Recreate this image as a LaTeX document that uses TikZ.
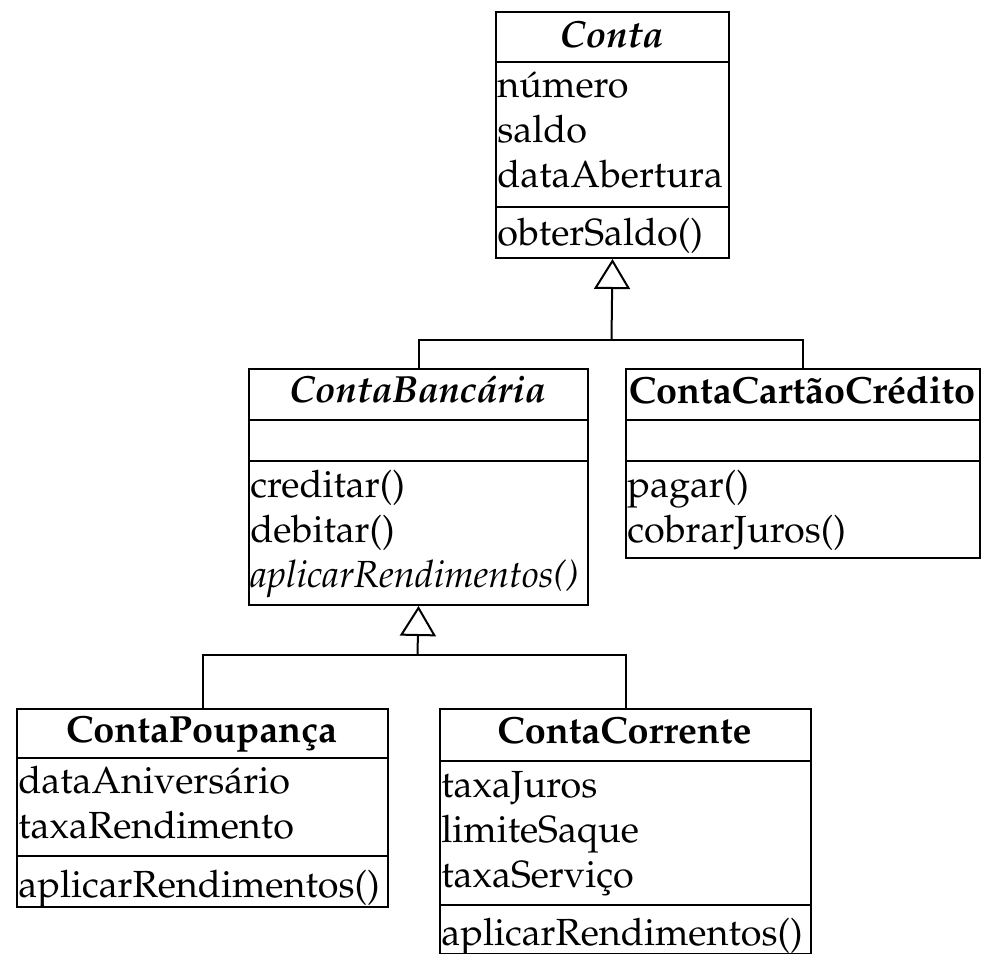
\documentclass[tikz,border=0pt]{standalone}
\usepackage[T1]{fontenc}
\usepackage{mathpazo}
\usetikzlibrary{arrows.meta}
\begin{document}
\begin{tikzpicture}[x=0.5pt,y=-0.5pt,
  classbox/.style={draw, line width=1pt, inner sep=0pt, anchor=north west},
  member/.style={anchor=base west, inner sep=0pt, font=\fontsize{18.9}{22}\selectfont},
  ctitle/.style={anchor=base, inner sep=0pt, font=\fontsize{18.9}{22}\selectfont\bfseries},
  sepline/.style={line width=1pt},
  gen/.style={line width=1pt},
  gentip/.style={gen, -{Triangle[open, length=15pt, width=18pt, fill=white]}}]
\useasboundingbox (0,0) rectangle (981,954);

% Conta
\node[classbox, minimum width=116.5pt, minimum height=123pt] (conta) at (495,11) {};
\draw[sepline] (495,62) -- (728,62);
\draw[sepline] (495,207) -- (728,207);
\node[ctitle] (contaT) at (611.5,47) {\itshape Conta};
\node[member] (contaA1) at (497,97) {n\'umero};
\node[member] (contaA2) at (497,142) {saldo};
\node[member] (contaA3) at (497,187) {dataAbertura};
\node[member] (contaM1) at (497,245) {obterSaldo()};

% ContaBancaria
\node[classbox, minimum width=169.5pt, minimum height=118pt] (bank) at (248,368) {};
\draw[sepline] (248,420) -- (587,420);
\draw[sepline] (248,461) -- (587,461);
\node[ctitle] (bankT) at (417.5,402) {\itshape ContaBanc\'aria};
\node[member] (bankM1) at (250,497) {creditar()};
\node[member] (bankM2) at (250,542) {debitar()};
\node[member] (bankM3) at (250,587) {\itshape aplicarRendimentos()};

% ContaCartaoCredito
\node[classbox, minimum width=177pt, minimum height=94.5pt] (card) at (625,368) {};
\draw[sepline] (625,420) -- (979,420);
\draw[sepline] (625,461) -- (979,461);
\node[ctitle] (cardT) at (802,403) {ContaCart\~aoCr\'edito};
\node[member] (cardM1) at (627,497) {pagar()};
\node[member] (cardM2) at (627,542) {cobrarJuros()};

% ContaPoupanca
\node[classbox, minimum width=185.5pt, minimum height=99pt] (poup) at (16,708) {};
\draw[sepline] (16,758) -- (387,758);
\draw[sepline] (16,856) -- (387,856);
\node[ctitle] (poupT) at (201.5,742) {ContaPoupan\c{c}a};
\node[member] (poupA1) at (18,793) {dataAnivers\'ario};
\node[member] (poupA2) at (18,838) {taxaRendimento};
\node[member] (poupM1) at (18,897) {aplicarRendimentos()};

% ContaCorrente
\node[classbox, minimum width=185.5pt, minimum height=122.5pt] (corr) at (439,708) {};
\draw[sepline] (439,761) -- (810,761);
\draw[sepline] (439,905) -- (810,905);
\node[ctitle] (corrT) at (624.5,743) {ContaCorrente};
\node[member] (corrA1) at (441,797) {taxaJuros};
\node[member] (corrA2) at (441,842) {limiteSaque};
\node[member] (corrA3) at (441,887) {taxaServi\c{c}o};
\node[member] (corrM1) at (441,945) {aplicarRendimentos()};

% generalizations
\coordinate (j1) at (611.5,340);
\draw[gen] (bank.north) |- (j1);
\draw[gen] (card.north) |- (j1);
\draw[gentip] (j1) -- (conta.south);

\coordinate (j2) at (417.5,655);
\draw[gen] (poup.north) |- (j2);
\draw[gen] (corr.north) |- (j2);
\draw[gentip] (j2) -- (bank.south);
\end{tikzpicture}
\end{document}
